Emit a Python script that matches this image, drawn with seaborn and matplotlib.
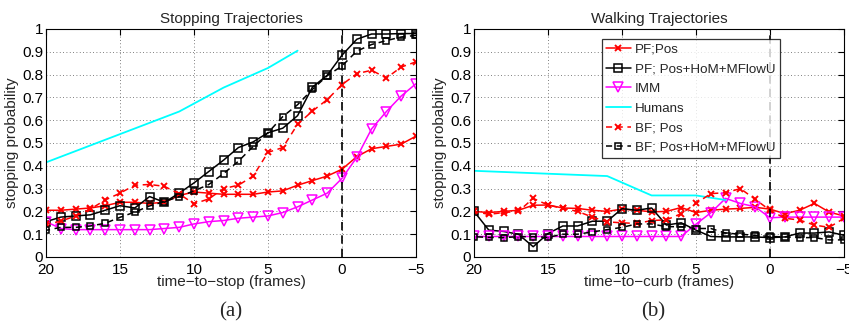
import numpy as np
import pandas as pd
import matplotlib
matplotlib.use('Agg')
import matplotlib.pyplot as plt
from matplotlib.ticker import FormatStrFormatter
import seaborn as sns

# time axis (frames), shared by all tracker series
t = [20, 19, 18, 17, 16, 15, 14, 13, 12, 11, 10, 9, 8, 7, 6, 5, 4, 3, 2, 1, 0, -1, -2, -3, -4, -5]

# (a) stopping trajectories
pf_pos_a = [0.205, 0.205, 0.21, 0.215, 0.225, 0.24, 0.24, 0.235, 0.24, 0.27, 0.285, 0.28, 0.275, 0.275, 0.275,
            0.285, 0.29, 0.315, 0.335, 0.355, 0.385, 0.44, 0.475, 0.485, 0.495, 0.53]
pf_full_a = [0.155, 0.175, 0.18, 0.185, 0.205, 0.225, 0.215, 0.265, 0.24, 0.28, 0.325, 0.375, 0.425, 0.48, 0.505,
             0.545, 0.565, 0.62, 0.745, 0.797, 0.885, 0.955, 0.978, 0.978, 0.98, 0.98]
imm_a = [0.155, 0.125, 0.12, 0.12, 0.12, 0.12, 0.12, 0.12, 0.125, 0.13, 0.145, 0.155, 0.16, 0.17, 0.175,
         0.18, 0.195, 0.22, 0.25, 0.28, 0.345, 0.437, 0.562, 0.638, 0.706, 0.76]
humans_t_a = [20, 11, 8, 5, 3]
humans_a = [0.415, 0.638, 0.743, 0.829, 0.905]
bf_pos_a = [0.143, 0.157, 0.18, 0.21, 0.25, 0.28, 0.315, 0.318, 0.31, 0.277, 0.233, 0.255, 0.3, 0.315, 0.355,
            0.459, 0.48, 0.582, 0.64, 0.69, 0.756, 0.804, 0.819, 0.785, 0.833, 0.856]
bf_full_a = [0.117, 0.13, 0.13, 0.136, 0.148, 0.174, 0.197, 0.224, 0.243, 0.265, 0.29, 0.318, 0.366, 0.42, 0.485,
             0.545, 0.616, 0.668, 0.735, 0.795, 0.838, 0.903, 0.932, 0.949, 0.965, 0.972]

# (b) walking trajectories
pf_pos_b = [0.2, 0.195, 0.2, 0.205, 0.227, 0.228, 0.215, 0.213, 0.205, 0.2, 0.21, 0.205, 0.198, 0.2, 0.217,
            0.195, 0.205, 0.21, 0.213, 0.218, 0.21, 0.19, 0.205, 0.235, 0.197, 0.18]
pf_full_b = [0.2, 0.118, 0.112, 0.1, 0.045, 0.103, 0.136, 0.136, 0.157, 0.157, 0.212, 0.205, 0.215, 0.14, 0.15,
             0.118, 0.09, 0.088, 0.088, 0.088, 0.085, 0.088, 0.105, 0.105, 0.11, 0.095]
imm_b = [0.09, 0.09, 0.09, 0.09, 0.09, 0.09, 0.09, 0.09, 0.09, 0.09, 0.09, 0.09, 0.09, 0.09, 0.09,
         0.144, 0.194, 0.257, 0.235, 0.22, 0.172, 0.175, 0.175, 0.175, 0.175, 0.175]
humans_t_b = [20, 11, 8, 5, 3]
humans_b = [0.378, 0.355, 0.27, 0.27, 0.25]
bf_pos_b = [0.2, 0.187, 0.195, 0.2, 0.257, 0.228, 0.213, 0.2, 0.175, 0.154, 0.15, 0.147, 0.16, 0.163, 0.19,
            0.235, 0.278, 0.282, 0.3, 0.253, 0.205, 0.17, 0.162, 0.14, 0.13, 0.17]
bf_full_b = [0.089, 0.086, 0.085, 0.089, 0.089, 0.086, 0.1, 0.1, 0.11, 0.12, 0.13, 0.145, 0.145, 0.133, 0.133,
             0.125, 0.125, 0.105, 0.1, 0.095, 0.09, 0.088, 0.085, 0.085, 0.075, 0.075]

labels = ['PF;Pos', 'PF; Pos+HoM+MFlowU', 'IMM', 'Humans', 'BF; Pos', 'BF; Pos+HoM+MFlowU']
x_ticks = [20, 15, 10, 5, 0, -5]
y_ticks = [0, 0.1, 0.2, 0.3, 0.4, 0.5, 0.6, 0.7, 0.8, 0.9, 1]

sns.set_style('white')
plt.rcParams['font.family'] = ['Liberation Sans', 'DejaVu Sans']
plt.rcParams['axes.unicode_minus'] = True

fig = plt.figure(figsize=(8.49, 3.28), dpi=100)
ax_a = fig.add_axes([46 / 849, 71 / 328, 370 / 849, 228 / 328])
ax_b = fig.add_axes([474 / 849, 71 / 328, 370 / 849, 228 / 328])


def draw_panel(ax, series, humans_t, title, xlabel):
    pf_pos, pf_full, imm, humans, bf_pos, bf_full = series
    lw = 1.1
    dash = (0, (4, 3))
    sns.lineplot(x=t, y=pf_pos, ax=ax, color='red', lw=lw, marker='x', ms=5, mew=1.4, mec='red',
                 label=labels[0])
    sns.lineplot(x=t, y=pf_full, ax=ax, color='black', lw=lw, marker='s', ms=5.5, mfc='none', mec='black',
                 mew=1.1, label=labels[1])
    sns.lineplot(x=t, y=imm, ax=ax, color='magenta', lw=lw, marker='v', ms=6.5, mfc='none', mec='magenta',
                 mew=1.1, label=labels[2])
    sns.lineplot(x=humans_t, y=humans, ax=ax, color='cyan', lw=1.3, label=labels[3])
    sns.lineplot(x=t, y=bf_pos, ax=ax, color='red', lw=lw, linestyle=dash, marker='x', ms=5, mew=1.4, mec='red',
                 label=labels[4])
    sns.lineplot(x=t, y=bf_full, ax=ax, color='black', lw=lw, linestyle=dash, marker='s', ms=5,
                 mfc='none', mec='black', mew=1.1, label=labels[5])
    ax.axvline(0, color='black', lw=1.2, linestyle=(0, (5, 3)))
    ax.set_xlim(20, -5)
    ax.set_ylim(0, 1)
    ax.set_xticks(x_ticks)
    ax.set_yticks(y_ticks)
    ax.yaxis.set_major_formatter(FormatStrFormatter('%g'))
    ax.grid(True, color='#555555', linestyle=(0, (1, 3)), lw=0.6)
    ax.tick_params(direction='in', length=4, labelsize=11, top=True, right=True, pad=2, colors='black')
    ax.tick_params(axis='x', pad=4)
    for sp in ax.spines.values():
        sp.set_color('black')
        sp.set_linewidth(0.8)
    ax.set_title(title, fontsize=11, pad=4)
    ax.set_xlabel(xlabel, fontsize=11, labelpad=-1)
    ax.set_ylabel('stopping probability', fontsize=11, labelpad=2)


draw_panel(ax_a, (pf_pos_a, pf_full_a, imm_a, humans_a, bf_pos_a, bf_full_a), humans_t_a,
           'Stopping Trajectories', 'time\u2212to\u2212stop (frames)')
draw_panel(ax_b, (pf_pos_b, pf_full_b, imm_b, humans_b, bf_pos_b, bf_full_b), humans_t_b,
           'Walking Trajectories', 'time\u2212to\u2212curb (frames)')

ax_a.get_legend().remove()
leg = ax_b.legend(loc='upper right', bbox_to_anchor=(0.826, 0.955), fontsize=9.6, frameon=True,
                  fancybox=False, edgecolor='black', handlelength=1.9, labelspacing=0.55,
                  borderpad=0.3, handletextpad=0.3, borderaxespad=0)
leg.get_frame().set_linewidth(0.9)

fig.text(231 / 849, 1 - 312 / 328, '(a)', ha='center', va='center', fontsize=15, family='Liberation Serif')
fig.text(653 / 849, 1 - 312 / 328, '(b)', ha='center', va='center', fontsize=15, family='Liberation Serif')

fig.savefig('out.png', dpi=100)
